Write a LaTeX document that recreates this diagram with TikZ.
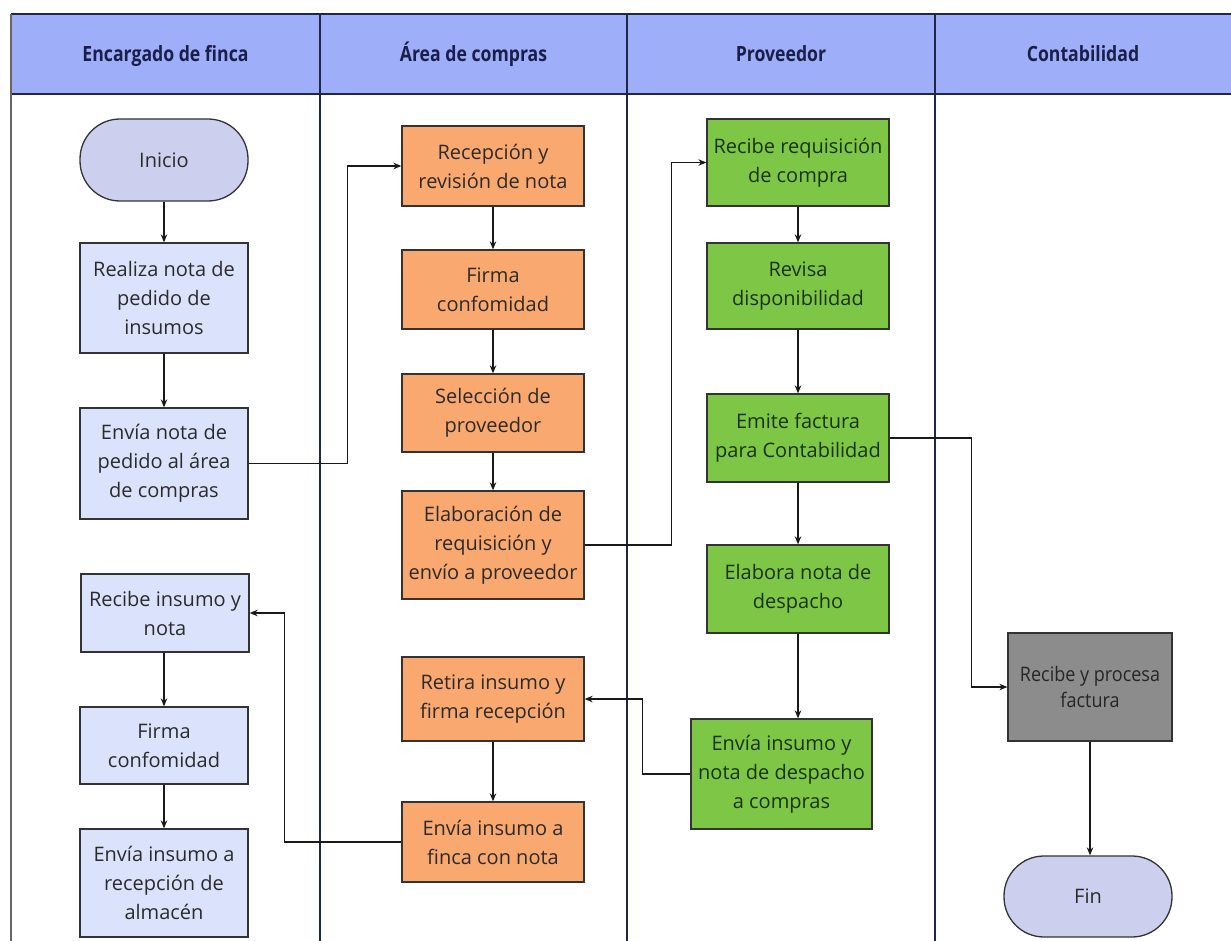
\documentclass[tikz,border=0pt]{standalone}
\usepackage{fontspec}
\setmainfont{Open Sans}
\newfontfamily\headfont[FakeStretch=0.84]{Open Sans}
\newfontfamily\narrowfont[FakeStretch=0.9]{Open Sans}
\usetikzlibrary{arrows.meta}
\definecolor{headfill}{HTML}{9FAEF9}
\definecolor{laneline}{HTML}{1F2747}
\definecolor{boxline}{HTML}{333333}
\definecolor{bluefill}{HTML}{DAE3FB}
\definecolor{orangefill}{HTML}{F9A86F}
\definecolor{greenfill}{HTML}{7DC646}
\definecolor{grayfill}{HTML}{8C8C8C}
\definecolor{lavfill}{HTML}{CDCFEF}
\definecolor{txt}{HTML}{2B2B2B}
\definecolor{greentxt}{HTML}{1A330D}
\definecolor{headtxt}{HTML}{1A1F4A}
\begin{document}
\begin{tikzpicture}[x=1pt,y=-1pt,
  box/.style={draw=boxline, line width=1.3pt, align=center, inner sep=2pt,
    font=\fontsize{20}{29}\selectfont, text=txt},
  sz/.style 2 args={minimum width=#1pt, minimum height=#2pt},
  bluebox/.style={box, fill=bluefill},
  orangebox/.style={box, fill=orangefill},
  greenbox/.style={box, fill=greenfill, text=greentxt},
  graybox/.style={box, fill=grayfill, text=black!85},
  termbox/.style={box, fill=lavfill, rounded corners=40pt},
  headtext/.style={font=\headfont\bfseries\fontsize{21}{24}\selectfont, text=headtxt,
    text height=15pt, text depth=4pt},
  lane/.style={draw=laneline, line width=1.3pt},
  arr/.style={draw=black!90, line width=1.2pt, -{Stealth[length=8pt,width=6.5pt]}}
]
\useasboundingbox (0,0) rectangle (1231,941);
% header band
\fill[headfill] (11,14) rectangle (1231,94);
\draw[lane] (11,14) -- (1231,14);
\draw[lane] (11,94) -- (1231,94);
\draw[lane, draw=black!60] (11,14) -- (11,941);
\draw[lane] (320,14) -- (320,941);
\draw[lane] (627,14) -- (627,941);
\draw[lane] (935,14) -- (935,941);
\node[headtext] (h1) at (165.5,56) {Encargado de finca};
\node[headtext] (h2) at (473.5,56) {Área de compras};
\node[headtext] (h3) at (781,56) {Proveedor};
\node[headtext] (h4) at (1083,56) {Contabilidad};

% Encargado de finca
\node[termbox, sz={168}{82}] (inicio) at (164,160) {Inicio};
\node[bluebox, sz={168}{110}] (realiza) at (164,298) {Realiza nota de\\pedido de\\insumos};
\node[bluebox, sz={168}{111}] (envia1) at (164,463.5) {Envía nota de\\pedido al área\\de compras};
\node[bluebox, sz={168}{78}] (recibe1) at (165,613) {Recibe insumo y\\nota};
\node[bluebox, sz={168}{77}] (firma1) at (164,745.5) {Firma\\confomidad};
\node[bluebox, sz={168}{108}] (envia2) at (164,883) {Envía insumo a\\recepción de\\almacén};

% Area de compras
\node[orangebox, sz={182}{80}] (recep) at (493,166) {Recepción y\\revisión de nota};
\node[orangebox, sz={182}{79}] (firma2) at (493,289.5) {Firma\\confomidad};
\node[orangebox, sz={182}{78}] (selec) at (493,413) {Selección de\\proveedor};
\node[orangebox, sz={182}{108}] (elab) at (493,545) {Elaboración de\\requisición y\\envío a proveedor};
\node[orangebox, sz={182}{84}] (retira) at (493,699) {Retira insumo y\\firma recepción};
\node[orangebox, sz={182}{80}] (envia3) at (493,842) {Envía insumo a\\finca con nota};

% Proveedor
\node[greenbox, sz={182}{87}] (recibereq) at (798,162.5) {Recibe requisición\\de compra};
\node[greenbox, sz={182}{86}] (revisa) at (798,286) {Revisa\\disponibilidad};
\node[greenbox, sz={182}{88}] (emite) at (798,438) {Emite factura\\para Contabilidad};
\node[greenbox, sz={182}{88}] (elabora) at (798,589) {Elabora nota de\\despacho};
\node[greenbox, sz={181}{110}] (envia4) at (781.5,774) {Envía insumo y\\nota de despacho\\a compras};

% Contabilidad
\node[graybox, sz={164}{108}, font=\narrowfont\fontsize{20}{26}\selectfont] (procesa) at (1090,687) {Recibe y procesa\\factura};
\node[termbox, sz={168}{81}] (fin) at (1088,896.5) {Fin};

% vertical flows
\draw[arr] (inicio) -- (realiza);
\draw[arr] (realiza) -- (envia1);
\draw[arr] (recibe1.south -| firma1.north) -- (firma1);
\draw[arr] (firma1) -- (envia2);
\draw[arr] (recep) -- (firma2);
\draw[arr] (firma2) -- (selec);
\draw[arr] (selec) -- (elab);
\draw[arr] (retira) -- (envia3);
\draw[arr] (recibereq) -- (revisa);
\draw[arr] (revisa) -- (emite);
\draw[arr] (emite) -- (elabora);
\draw[arr] (elabora.south) -- (elabora.south |- envia4.north);
\draw[arr] (procesa.south) -- (procesa.south |- fin.north);

% lane-crossing flows
\draw[arr] (envia1.east) -| ([xshift=-54pt]recep.west) -- (recep.west);
\draw[arr] (elab.east) -| ([xshift=-35pt]recibereq.west) -- (recibereq.west);
\draw[arr] (emite.east) -| ([xshift=-36pt]procesa.west) -- (procesa.west);
\draw[arr] (envia4.west) -| ([xshift=58pt]retira.east) -- (retira.east);
\draw[arr] (envia3.west) -| ([xshift=35pt]recibe1.east) -- (recibe1.east);
\end{tikzpicture}
\end{document}
